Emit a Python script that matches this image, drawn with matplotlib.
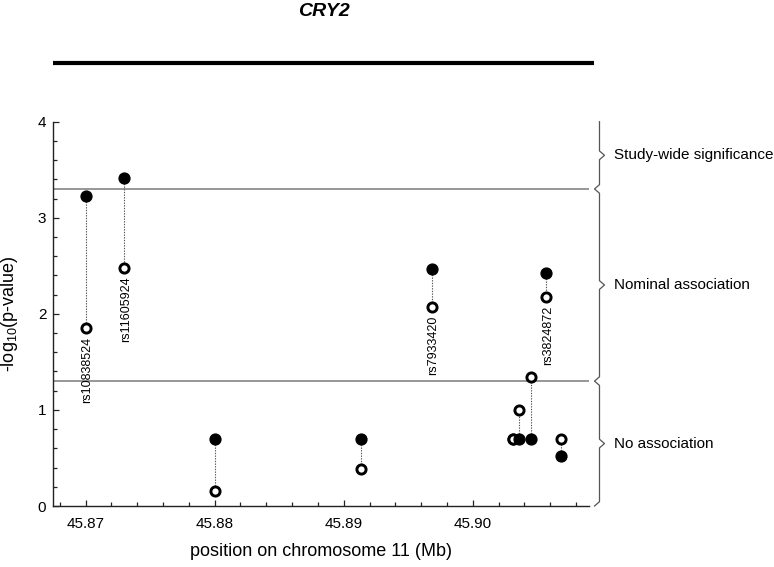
import matplotlib
matplotlib.use('Agg')
import matplotlib.pyplot as plt
from matplotlib.transforms import blended_transform_factory
from matplotlib.lines import Line2D
from matplotlib.ticker import MultipleLocator, FixedLocator, FixedFormatter

plt.rcParams['font.family'] = ['Liberation Sans', 'DejaVu Sans']
plt.rcParams['mathtext.default'] = 'regular'

# ---------------- data ----------------
gene_name = "CRY2"
gene_start = 45.8675
gene_end = 45.9094

snp_pos = [45.8700, 45.87295, 45.8800, 45.8913, 45.8968, 45.9031, 45.9036, 45.9045, 45.9057, 45.9068]
filled_vals = [3.23, 3.41, 0.70, 0.70, 2.47, 0.70, 0.70, 0.70, 2.43, 0.52]
open_vals = [1.85, 2.48, 0.16, 0.39, 2.07, 0.70, 1.00, 1.34, 2.18, 0.70]
snp_labels = ['rs10838524', 'rs11605924', '', '', 'rs7933420', '', '', '', 'rs3824872', '']

thresholds = [3.3, 1.3]
zones = ['Study-wide significance', 'Nominal association', 'No association']
zone_bounds = [4.0, 3.3, 1.3, 0.0]

xticks = [45.87, 45.88, 45.89, 45.90]
xticklabels = ['45.87', '45.88', '45.89', '45.90']
yticks = [0, 1, 2, 3, 4]

xlim = (45.8675, 45.9090)
ylim = (0, 4)

# ---------------- figure ----------------
W, H = 774, 567
fig = plt.figure(figsize=(W / 100, H / 100), dpi=100)
ax_l, ax_r, ax_t, ax_b = 53.3, 589.0, 121.7, 506.0
ax = fig.add_axes([ax_l / W, 1 - ax_b / H, (ax_r - ax_l) / W, (ax_b - ax_t) / H])
ax.set_xlim(*xlim)
ax.set_ylim(*ylim)

for s in ['top', 'right']:
    ax.spines[s].set_visible(False)
for s in ['left', 'bottom']:
    ax.spines[s].set_linewidth(1.0)
    ax.spines[s].set_color('#222222')

ax.xaxis.set_major_locator(FixedLocator(xticks))
ax.xaxis.set_major_formatter(FixedFormatter(xticklabels))
ax.xaxis.set_minor_locator(MultipleLocator(0.002))
ax.yaxis.set_major_locator(FixedLocator(yticks))
ax.yaxis.set_minor_locator(MultipleLocator(0.2))
ax.tick_params(which='both', direction='in', color='#222222', width=0.9)
ax.tick_params(which='major', length=4.5, labelsize=11)
ax.tick_params(which='minor', length=3)
ax.tick_params(axis='x', pad=8)
ax.tick_params(axis='y', pad=5)

# threshold lines
for t in thresholds:
    ax.axhline(t, color='#7a7a7a', lw=1.1, zorder=1)

# SNP points (drawn in sequence so later SNPs overlap earlier ones)
for i, (x, f, o, lab) in enumerate(zip(snp_pos, filled_vals, open_vals, snp_labels)):
    z = 3 + i * 3
    if abs(f - o) > 1e-9:
        ax.plot([x, x], [f, o], color='#555555', lw=0.8, ls=(0, (1.2, 1.2)), zorder=z)
    ax.plot([x], [f], marker='o', ms=7.8, color='black', mec='black', mew=1.0, ls='none', zorder=z + 1)
    ax.plot([x], [o], marker='o', ms=6.6, mfc='white', mec='black', mew=2.1, ls='none', zorder=z + 2)
    if lab:
        ax.annotate(lab, xy=(x, o), xytext=(2, -9), textcoords='offset pixels',
                    rotation=90, ha='center', va='top', fontsize=9, zorder=z + 2)

# braces and zone labels on the right
bt = blended_transform_factory(ax.transAxes, ax.transData)
px = 1.0 / (ax_r - ax_l)
x0 = 1.0 + (599.5 - ax_r) * px
tip = 5 * px
g = 0.045
xs, ys = [x0], [zone_bounds[0]]
for k in range(len(zones)):
    hi, lo = zone_bounds[k], zone_bounds[k + 1]
    mid = (hi + lo) / 2
    xs += [x0, x0 + tip, x0, x0]
    ys += [mid + g, mid, mid - g, lo + g]
    xs += [x0 - tip]
    ys += [lo]
    if k < len(zones) - 1:
        xs += [x0]
        ys += [lo - g]
ax.add_line(Line2D(xs, ys, transform=bt, color='#555555', lw=0.9, clip_on=False))
for k, name in enumerate(zones):
    mid = (zone_bounds[k] + zone_bounds[k + 1]) / 2
    ax.text(1.0 + (614 - ax_r) * px, mid, name, transform=bt, ha='left', va='center',
            fontsize=11, clip_on=False)

# gene bar and title
gt = blended_transform_factory(ax.transData, fig.transFigure)
ax.add_line(Line2D([gene_start, gene_end], [1 - 63.3 / H] * 2, transform=gt, color='black',
                   lw=3.0, solid_capstyle='butt', clip_on=False))
fig.text(324 / W, 1 - 12 / H, gene_name, ha='center', va='center', fontsize=14,
         fontweight='bold', fontstyle='italic')

# axis labels
ax.set_xlabel('position on chromosome 11 (Mb)', fontsize=13)
ax.xaxis.set_label_coords((321 - ax_l) / (ax_r - ax_l), -(543 - ax_b) / (ax_b - ax_t))
ax.set_ylabel('-log$_{10}$(p-value)', fontsize=13)
ax.yaxis.set_label_coords(-(ax_l - 20) / (ax_r - ax_l), 0.5)

fig.savefig('out.png', dpi=100)
